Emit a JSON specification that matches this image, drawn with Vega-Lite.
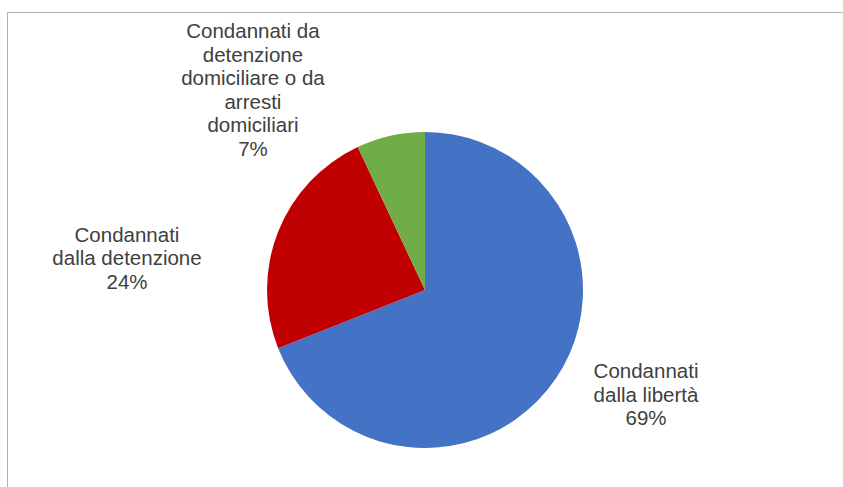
{
  "$schema": "https://vega.github.io/schema/vega-lite/v6.json",
  "autosize": "none",
  "width": 836,
  "height": 556,
  "padding": {"left": 7, "top": 12, "right": 0, "bottom": 0},
  "background": "#ffffff",
  "view": {"stroke": "#b0b0b0", "strokeWidth": 1, "fill": "#ffffff"},
  "config": {
    "font": "Liberation Sans"
  },
  "data": {
    "values": [
      {"categoria": "Condannati dalla libertà", "etichetta": "Condannati\ndalla libertà\n69%", "valore": 69, "ordine": 1},
      {"categoria": "Condannati dalla detenzione", "etichetta": "Condannati\ndalla detenzione\n24%", "valore": 24, "ordine": 2},
      {"categoria": "Condannati da detenzione domiciliare o da arresti domiciliari", "etichetta": "Condannati da\ndetenzione\ndomiciliare o da\narresti\ndomiciliari\n7%", "valore": 7, "ordine": 3}
    ]
  },
  "encoding": {
    "theta": {"field": "valore", "type": "quantitative", "stack": true},
    "order": {"field": "ordine", "type": "quantitative", "sort": "ascending"}
  },
  "layer": [
    {
      "mark": {"type": "arc", "outerRadius": 158},
      "encoding": {
        "color": {
          "field": "categoria",
          "type": "nominal",
          "legend": null,
          "scale": {
            "domain": ["Condannati dalla libertà", "Condannati dalla detenzione", "Condannati da detenzione domiciliare o da arresti domiciliari"],
            "range": ["#4472C4", "#C00000", "#70AD47"]
          }
        }
      }
    },
    {
      "mark": {"type": "text", "radius": 185, "dx": 68, "dy": -21.5, "fontSize": 20.5, "lineHeight": 23.5, "lineBreak": "\n", "color": "#404040", "align": "center", "baseline": "middle"},
      "encoding": {
        "detail": {"field": "categoria"},
        "text": {"field": "etichetta"},
        "opacity": {"condition": {"test": "datum.ordine === 1", "value": 1}, "value": 0}
      }
    },
    {
      "mark": {"type": "text", "radius": 185, "dx": -126, "dy": 14, "fontSize": 20.5, "lineHeight": 23.5, "lineBreak": "\n", "color": "#404040", "align": "center", "baseline": "middle"},
      "encoding": {
        "detail": {"field": "categoria"},
        "text": {"field": "etichetta"},
        "opacity": {"condition": {"test": "datum.ordine === 2", "value": 1}, "value": 0}
      }
    },
    {
      "mark": {"type": "text", "radius": 185, "dx": -131.7, "dy": -77, "fontSize": 20.5, "lineHeight": 23.5, "lineBreak": "\n", "color": "#404040", "align": "center", "baseline": "middle"},
      "encoding": {
        "detail": {"field": "categoria"},
        "text": {"field": "etichetta"},
        "opacity": {"condition": {"test": "datum.ordine === 3", "value": 1}, "value": 0}
      }
    }
  ]
}
